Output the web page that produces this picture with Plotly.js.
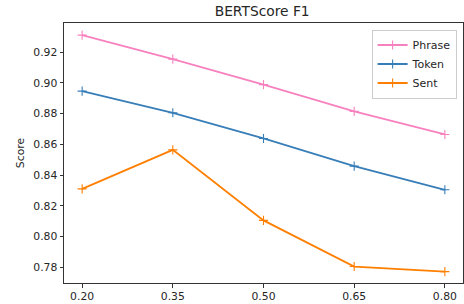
<!DOCTYPE html>
<html>
<head>
<meta charset="utf-8">
<script src="https://cdn.plot.ly/plotly-3.0.1.min.js"></script>
<style>html,body{margin:0;padding:0;background:#fff;}#chart{width:464px;height:304px;}</style>
</head>
<body>
<div id="chart"></div>
<script>
const thresholds = [0.20, 0.35, 0.50, 0.65, 0.80];
const phrase = [0.931, 0.9154, 0.8988, 0.8814, 0.8664];
const token  = [0.8946, 0.8805, 0.8638, 0.8458, 0.8304];
const sent   = [0.831, 0.8564, 0.8105, 0.7805, 0.7772];
const tickLabels = ["0.20", "0.35", "0.50", "0.65", "0.80"];

const font = {family: "DejaVu Sans", size: 10.8, color: "#262626"};
function tr(name, y, color) {
  return {x: thresholds, y: y, name: name, type: "scatter", mode: "lines+markers",
    line: {color: color, width: 1.8},
    marker: {symbol: "cross-thin-open", size: 6.5, line: {color: color, width: 1.1}, color: color}};
}
const data = [tr("Phrase", phrase, "#f781bf"), tr("Token", token, "#377eb8"), tr("Sent", sent, "#ff7f00")];
const axisCommon = {showgrid: false, zeroline: false, showline: true, mirror: true,
  linecolor: "#333", linewidth: 1, ticks: "outside", ticklen: 3.5, tickwidth: 1, tickcolor: "#333",
  tickfont: font};
const layout = {
  width: 464, height: 304,
  margin: {l: 64, r: 1, t: 23, b: 21},
  paper_bgcolor: "#fff", plot_bgcolor: "#fff",
  title: {text: "BERTScore F1", font: {family: "DejaVu Sans", size: 13.8, color: "#262626"}, x: 0.565, xanchor: "center", y: 0.962, yanchor: "middle"},
  xaxis: Object.assign({}, axisCommon, {range: [0.17, 0.83], tickvals: thresholds, ticktext: tickLabels}),
  yaxis: Object.assign({}, axisCommon, {range: [0.7698, 0.9389], tickvals: [0.78,0.80,0.82,0.84,0.86,0.88,0.90,0.92], tickformat: ".2f",
    title: {text: "Score", font: {family: "DejaVu Sans", size: 10.8, color: "#262626"}, standoff: 6}}),
  legend: {x: 0.984, xanchor: "right", y: 0.975, yanchor: "top", bgcolor: "rgba(255,255,255,0.8)",
    bordercolor: "#ccc", borderwidth: 1, font: {family: "DejaVu Sans", size: 11, color: "#262626"},
    tracegroupgap: 0, itemwidth: 30},
  showlegend: true
};
Plotly.newPlot("chart", data, layout, {displayModeBar: false, staticPlot: true});
</script>
</body>
</html>
